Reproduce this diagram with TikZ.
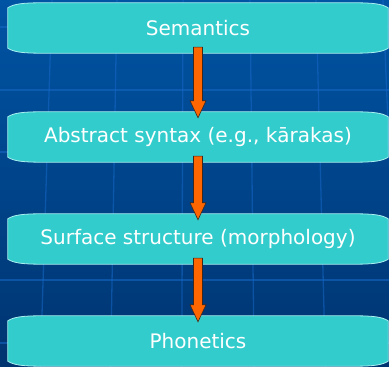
\documentclass[tikz,border=0pt]{standalone}
\usepackage{fontspec}
\setmainfont{DejaVu Sans}
\usetikzlibrary{calc,positioning,backgrounds}
\definecolor{bgtop}{RGB}{0,84,164}
\definecolor{bgbottom}{RGB}{0,52,112}
\definecolor{gridblue}{RGB}{22,104,200}
\definecolor{stagefill}{RGB}{51,204,204}
\definecolor{stageedge}{RGB}{170,240,240}
\definecolor{arroworange}{RGB}{255,102,0}
\definecolor{arrowedge}{RGB}{60,40,30}

\newcommand{\stagearrow}[2]{%
  \filldraw[flow] let \p1=($(#1.south)+(0,6)$), \p2=($(#2.north)+(0,-6)$) in
    (\x1-4.5pt,\y1) -- (\x1+4.5pt,\y1) -- (\x1+4.5pt,\y2+17pt)
    -- (\x1+8pt,\y2+17pt) -- (\x1,\y2) -- (\x1-8pt,\y2+17pt)
    -- (\x1-4.5pt,\y2+17pt) -- cycle;}

\begin{document}
\begin{tikzpicture}[x=1pt, y=1pt,
  stage/.style={rectangle, minimum width=380, minimum height=50,
    text=white, font=\fontsize{20}{24}\selectfont, inner sep=0pt},
  stagebody/.style={fill=stagefill, draw=stageedge, line width=0.8pt},
  gridline/.style={gridblue, line width=1.3pt, opacity=0.55},
  flow/.style={fill=arroworange, draw=arrowedge, line width=0.6pt},
]
  \useasboundingbox (0,0) rectangle (389,367);

  % Stages
  \node[stage] (sem) at (198,339) {Semantics};
  \node[stage] (abs) at (198,230) {Abstract syntax (e.g., kārakas)};
  \node[stage] (surf) at (198,128) {Surface structure (morphology)};
  \node[stage] (phon) at (198,26) {Phonetics};

  \begin{scope}[on background layer]
    % Background
    \shade[top color=bgtop, bottom color=bgbottom] (0,0) rectangle (389,367);
    \foreach \y in {24,87,215,277,340}
      \draw[gridline] (0,\y) -- (389,\y);
    \foreach \x in {52,117,183,250,316,383}
      \draw[gridline] (\x,367) -- ({\x+0.08*(\x-198)},0);
    % stage bodies with flared ends
    \foreach \n in {sem,abs,surf,phon}
      \filldraw[stagebody]
        ($(\n.north west)+(0,-5)$) .. controls ($(\n.north west)+(6,-1)$)
          and ($(\n.north west)+(16,0)$) .. ($(\n.north west)+(34,0)$)
        -- ($(\n.north east)+(-34,0)$) .. controls ($(\n.north east)+(-16,0)$)
          and ($(\n.north east)+(-6,-1)$) .. ($(\n.north east)+(0,-5)$)
        -- ($(\n.south east)+(0,5)$) .. controls ($(\n.south east)+(-6,1)$)
          and ($(\n.south east)+(-16,0)$) .. ($(\n.south east)+(-34,0)$)
        -- ($(\n.south west)+(34,0)$) .. controls ($(\n.south west)+(16,0)$)
          and ($(\n.south west)+(6,1)$) .. ($(\n.south west)+(0,5)$)
        -- cycle;
  \end{scope}

  % Arrows
  \stagearrow{sem}{abs}
  \stagearrow{abs}{surf}
  \stagearrow{surf}{phon}
\end{tikzpicture}
\end{document}
